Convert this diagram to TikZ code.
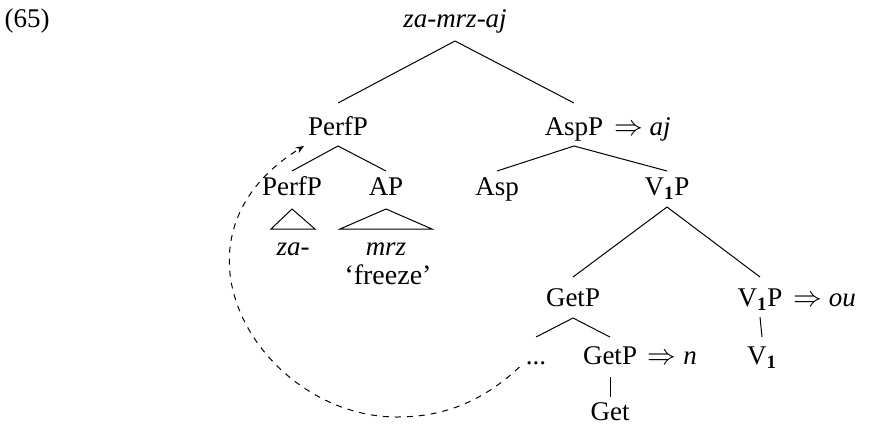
\documentclass[tikz,border=0pt]{standalone}
\usepackage{fontspec}
\setmainfont{Liberation Serif}
\usetikzlibrary{arrows.meta}
\begin{document}
\begin{tikzpicture}[x=0.5pt,y=-0.5pt,
  lbl/.style={anchor=base,inner sep=0pt,font=\fontsize{13.5}{15}\selectfont},
  ann/.style={anchor=base west,inner sep=0pt,font=\fontsize{13.5}{15}\selectfont},
  br/.style={line width=0.5pt},
  mv/.style={dashed,line width=0.5pt,-{Stealth[length=4pt,width=3.2pt]}}]
\useasboundingbox (0,0) rectangle (870,429);
\newcommand{\vone}{V\textsubscript{\textbf{1}}}
% labels
\node[lbl] (ex) at (27,27) {(65)};
\node[lbl] (root) at (455,27) {\textit{za-mrz-aj}};
\node[lbl] (perfp) at (338,135) {PerfP};
\node[lbl] (aspp) at (574,135) {AspP};
\node[ann] (asppa) at ([xshift=5pt]aspp.base east) {$\Rightarrow$ \textit{aj}};
\node[lbl] (perfp2) at (292,195) {PerfP};
\node[lbl] (ap) at (386,195) {AP};
\node[lbl] (asp) at (497,195) {Asp};
\node[lbl] (v1p) at (667,195) {\vone P};
\node[lbl] (za) at (293,255) {\textit{za-}};
\node[lbl] (mrz) at (386,255) {\textit{mrz}};
\node[lbl] (freeze) at (388,284) {\fontsize{14}{15}\selectfont`freeze'};
\node[lbl] (getp) at (573,306) {GetP};
\node[lbl] (v1pr) at (760,306) {\vone P};
\node[ann] (v1pra) at ([xshift=5pt]v1pr.base east) {$\Rightarrow$ \textit{ou}};
\node[lbl] (dots) at (536,364) {...};
\node[lbl] (getp2) at (610,364) {GetP};
\node[ann] (getp2a) at ([xshift=5pt]getp2.base east) {$\Rightarrow$ \textit{n}};
\node[lbl] (v1) at (762,364) {\vone};
\node[lbl] (get) at (610,420) {Get};
% branches
\draw[br] ([yshift=-7pt]root.base) -- ([yshift=16pt]perfp.base);
\draw[br] ([yshift=-7pt]root.base) -- ([yshift=16pt]aspp.base);
\draw[br] ([yshift=-5.5pt]perfp.base) -- ([yshift=12pt]perfp2.base);
\draw[br] ([yshift=-5.5pt]perfp.base) -- ([yshift=12pt]ap.base);
\draw[br] ([yshift=-5.5pt]aspp.base) -- ([yshift=12pt]asp.base);
\draw[br] ([yshift=-5.5pt]aspp.base) -- ([yshift=12pt]v1p.base);
\draw[br] ([yshift=-6pt]v1p.base) -- ([yshift=14.5pt]getp.base);
\draw[br] ([yshift=-6pt]v1p.base) -- ([yshift=14.5pt]v1pr.base);
\draw[br] ([yshift=-6pt]getp.base) -- ([yshift=13.5pt]dots.base);
\draw[br] ([yshift=-6pt]getp.base) -- ([yshift=13.5pt]getp2.base);
\draw[br] ([yshift=-5.5pt]v1pr.base) -- ([yshift=13.5pt]v1.base);
\draw[br] ([yshift=-6.5pt]getp2.base) -- ([yshift=11.5pt]get.base);
% triangles
\draw[br] ([yshift=-7pt]perfp2.base) -- ([xshift=-11pt,yshift=13pt]za.base) -- ([xshift=11pt,yshift=13pt]za.base) -- cycle;
\draw[br] ([yshift=-7pt]ap.base) -- ([xshift=-23pt,yshift=13pt]mrz.base) -- ([xshift=23pt,yshift=13pt]mrz.base) -- cycle;
% movement
\draw[mv] ([xshift=-3pt,yshift=-1.5pt]dots.base west) .. controls (480,404) and (440,417) .. (397,417)
  .. controls (262,417) and (152,240) .. ([xshift=-17pt,yshift=-5.5pt]perfp.base);
\end{tikzpicture}
\end{document}
